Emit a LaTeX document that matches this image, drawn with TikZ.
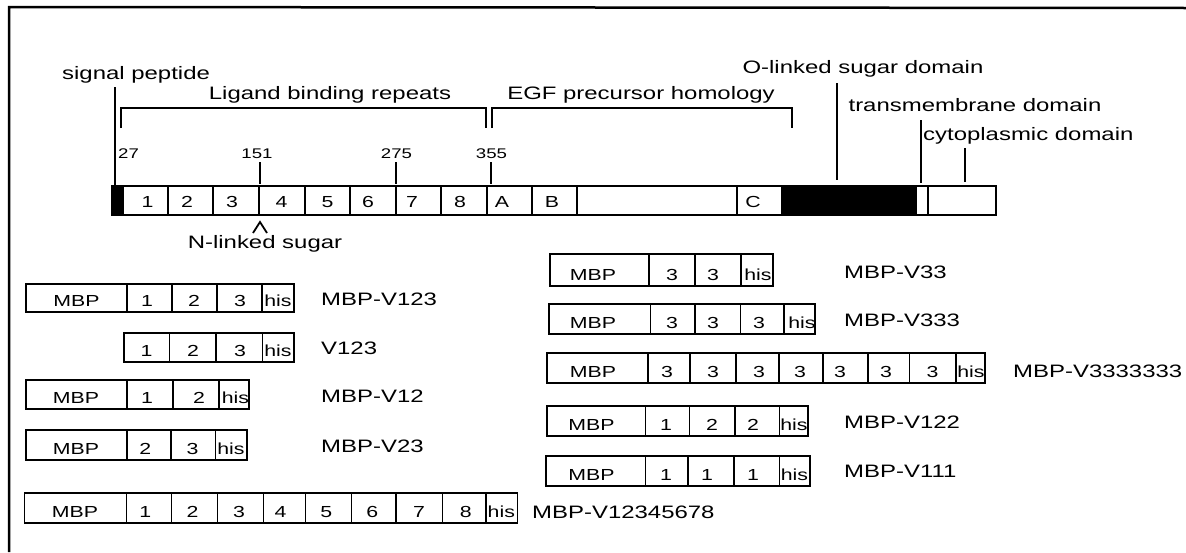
\documentclass[tikz,border=0pt]{standalone}
\usepackage{fontspec}
\setmainfont[FakeStretch=1.33]{Liberation Sans}
\begin{document}
\begin{tikzpicture}[x=1pt,y=-1pt,
  cbox/.style={draw=black,line width=1.1pt},
  big/.style={font=\fontsize{18}{20}\selectfont,inner sep=0pt},
  blab/.style={font=\fontsize{16}{18}\selectfont,inner sep=0pt,anchor=base},
  numl/.style={font=\fontsize{14}{16}\selectfont,inner sep=0pt,anchor=base},
  tick/.style={draw=black,line width=1.1pt}]
\useasboundingbox (0,0) rectangle (1186,552);
\newcommand\cons[7]{%
  \draw[cbox] (#4,#2) rectangle (#5,#3);
  \foreach \d in {#6} \draw[cbox] ({\d},#2) -- ({\d},#3);
  \foreach \x/\t [count=\i] in {#7} \node[blab] (#1-\i) at ({\x},{#3-6}) {\t};
}
% frame
\draw[line width=2.5pt] (9,552) -- (9,7) -- (1186,8);
% main bar
\fill[black] (112,186) rectangle (123,215);
\fill[black] (782,186) rectangle (916,215);
\draw[line width=1.4pt] (112,186) rectangle (996,215);
\foreach \d in {123,168,213,259,305,350,396,441,487,532,577,737,782,916} \draw[cbox] (\d,186) -- (\d,215);
\draw[line width=2pt] (928,186) -- (928,215);
\foreach \x/\t [count=\i] in {147.5/1,187/2,232/3,281.5/4,327.5/5,368/6,412/7,460/8,502/A,552/B,753/C} \node[blab] (bar-\i) at (\x,207) {\t};
% top labels
\node[big,anchor=base west] (sig) at (62,79) {signal peptide};
\node[big,anchor=base] (lig) at (330,99) {Ligand binding repeats};
\node[big,anchor=base] (egf) at (641,99) {EGF precursor homology};
\node[big,anchor=base] (olk) at (863,73) {O-linked sugar domain};
\node[big,anchor=base] (tm) at (975,111) {transmembrane domain};
\node[big,anchor=base west] (cyt) at (923,140) {cytoplasmic domain};
% numbers
\node[numl,anchor=base west] (n27) at (118,158) {27};
\node[numl] (n151) at (257,158) {151};
\node[numl] (n275) at (396.5,158) {275};
\node[numl] (n355) at (491.5,158) {355};
% lines
\coordinate (sigtop) at (115,87);
\coordinate (sigbot) at (115,186);
\draw[tick] (sigtop) -- (sigbot);
\draw[tick] (121,128) -- (121,108) -- (486,108) -- (486,128);
\draw[tick] (492,128) -- (492,108) -- (792,108) -- (792,128);
\draw[tick] (260,162) -- (260,184);
\draw[tick] (396,162) -- (396,184);
\draw[tick] (491,162) -- (491,184);
\draw[tick] (837,83) -- (837,180);
\draw[tick] (921,120) -- (921,183);
\draw[tick] (965,148) -- (965,182);
% N-linked sugar
\draw[line width=1.8pt] (253,233) -- (260,222) -- (267,233);
\node[big,anchor=base] (nlk) at (265,248) {N-linked sugar};
% left constructs
\cons{a}{284}{312}{26}{294}{127,172,217,262}{76.5/MBP,147/1,194/2,240/3,278/his}
\node[big,anchor=base west] (ta) at (321,305) {MBP-V123};
\cons{b}{333}{362}{124}{294}{169.5,216,262.5}{146.6/1,193/2,240/3,278/his}
\node[big,anchor=base west] (tb) at (321,354) {V123};
\cons{c}{380}{409}{26}{249}{127,173,219}{76/MBP,147/1,199/2,235.5/his}
\node[big,anchor=base west] (tc) at (321,402) {MBP-V12};
\cons{d}{430}{460}{26}{247}{127,171,215.5}{76/MBP,145.4/2,192.5/3,231/his}
\node[big,anchor=base west] (td) at (321,452) {MBP-V23};
\cons{e}{493}{523}{24.5}{517.4}{126.3,171.5,217.4,263.3,305.4,351.3,396,442.4,486}{75/MBP,145.4/1,192.5/2,239/3,280.5/4,326.4/5,372.4/6,419/7,465.7/8,501.3/his}
\node[big,anchor=base west] (te) at (532,518) {MBP-V12345678};
% right constructs
\cons{f}{254}{286}{550}{773}{649,695,741}{593/MBP,672/3,713/3,758/his}
\node[big,anchor=base west] (tf) at (844,278) {MBP-V33};
\cons{g}{304}{334}{549}{815}{650.5,695,740.5,784}{593/MBP,672/3,713/3,759/3,802/his}
\node[big,anchor=base west] (tg) at (844,326) {MBP-V333};
\cons{h}{353}{383}{547}{985}{648,690,736,779,823,868,909.5,956}{593/MBP,667/3,713/3,759/3,800/3,840/3,886/3,932.5/3,971/his}
\node[big,anchor=base west] (th) at (1013,377) {MBP-V3333333};
\cons{i}{406}{436}{547}{808}{645.5,689.4,735,779.4}{591.5/MBP,666/1,712/2,753/2,794/his}
\node[big,anchor=base west] (ti) at (844,428) {MBP-V122};
\cons{j}{456}{486}{546}{810}{645.5,688,734,779.4}{591.5/MBP,666/1,707/1,753/1,794.5/his}
\node[big,anchor=base west] (tj) at (844,477) {MBP-V111};
\end{tikzpicture}
\end{document}
